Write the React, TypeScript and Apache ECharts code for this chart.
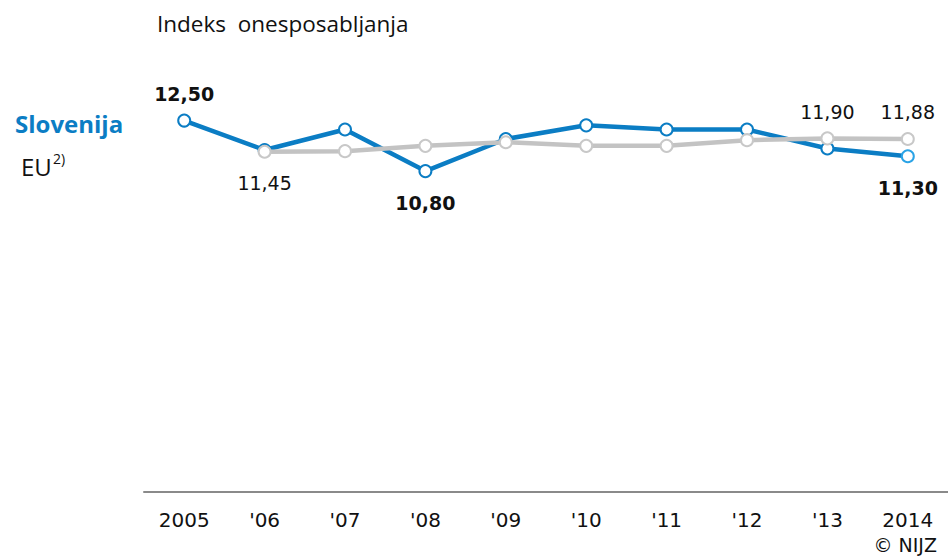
import React, { useEffect, useRef } from "react";
import * as echarts from "echarts";

const categories = ["2005", "'06", "'07", "'08", "'09", "'10", "'11", "'12", "'13", "2014"];
const sloveniaValues = [12.5, 11.51, 12.2, 10.8, 11.88, 12.34, 12.2, 12.2, 11.56, 11.3];
const euValues: (number | null)[] = [null, 11.45, 11.47, 11.65, 11.77, 11.65, 11.65, 11.84, 11.9, 11.88];
// label position per point: "" = no label
const sloveniaLabels = ["top", "", "", "bottom", "", "", "", "", "", "bottom"];
const euLabels = ["", "bottom", "", "", "", "", "", "", "top", "top"];

const BLUE = "#0b7dc4";
const GREY = "#c3c3c3";
const fmt = (v: number) => v.toFixed(2).replace(".", ",");

export default function App() {
  const ref = useRef<HTMLDivElement>(null);
  useEffect(() => {
    if (!ref.current) return;
    const chart = echarts.init(ref.current, null, { renderer: "svg" });

    const mkData = (vals: (number | null)[], labels: string[], bold: boolean, series: string) =>
      vals.map((v, i) => {
        const pos = labels[i];
        const item: any = { value: v };
        if (pos) {
          item.label = {
            show: true,
            position: pos,
            distance: pos === "top" ? 10 : 15,
            formatter: () => fmt(v as number),
            fontFamily: "DejaVu Sans",
            fontSize: 19,
            fontWeight: bold ? "bold" : "normal",
            color: "#111",
          };
        }
        if (series === "si" && i === vals.length - 1) {
          item.itemStyle = { borderColor: "#2aa3e6" };
        }
        return item;
      });

    chart.setOption({
      animation: false,
      grid: { left: 144, right: 0, top: 76, bottom: 64 },
      xAxis: {
        type: "category",
        data: categories,
        boundaryGap: true,
        axisLine: { show: true, lineStyle: { color: "#8a8a8a", width: 2 } },
        axisTick: { show: false },
        axisLabel: {
          fontFamily: "DejaVu Sans",
          fontSize: 20,
          color: "#111",
          margin: 18,
          interval: 0,
        },
      },
      yAxis: {
        type: "value",
        min: 0,
        max: 14,
        show: false,
        splitLine: { show: false },
      },
      series: [
        {
          name: "Slovenija",
          type: "line",
          data: mkData(sloveniaValues, sloveniaLabels, true, "si"),
          lineStyle: { color: BLUE, width: 4.5 },
          itemStyle: { color: "#fff", borderColor: BLUE, borderWidth: 2 },
          symbol: "circle",
          symbolSize: 12,
          showAllSymbol: true,
          z: 2,
        },
        {
          name: "EU",
          type: "line",
          data: mkData(euValues, euLabels, false, "eu"),
          lineStyle: { color: GREY, width: 4.5 },
          itemStyle: { color: "#fff", borderColor: "#c8c8c8", borderWidth: 2 },
          symbol: "circle",
          symbolSize: 12,
          showAllSymbol: true,
          z: 3,
        },
      ],
      graphic: [
        {
          type: "text",
          x: 157,
          y: 23,
          style: {
            text: "Indeks  onesposabljanja",
            fontFamily: "Open Sans",
            fontSize: 22.5,
            fill: "#111",
            verticalAlign: "middle",
          },
        },
        {
          type: "text",
          x: 15,
          y: 123,
          style: {
            text: "Slovenija",
            fontFamily: "Open Sans",
            fontWeight: "bold",
            fontSize: 24,
            fill: BLUE,
            verticalAlign: "middle",
          },
        },
        {
          type: "text",
          x: 21,
          y: 166,
          style: {
            text: "EU",
            fontFamily: "Open Sans",
            fontSize: 24,
            fill: "#111",
            verticalAlign: "middle",
          },
        },
        {
          type: "text",
          x: 53,
          y: 158,
          style: {
            text: "2)",
            fontFamily: "Open Sans",
            fontSize: 14,
            fill: "#111",
            verticalAlign: "middle",
          },
        },
        {
          type: "text",
          x: 937,
          y: 545,
          style: {
            text: "© NIJZ",
            fontFamily: "DejaVu Sans",
            fontSize: 19,
            fill: "#111",
            align: "right",
            verticalAlign: "middle",
          },
        },
      ],
    });
    return () => chart.dispose();
  }, []);
  return (
    <div
      ref={ref}
      style={{ position: "fixed", left: 0, top: 0, width: 948, height: 556, background: "#fff" }}
    />
  );
}
